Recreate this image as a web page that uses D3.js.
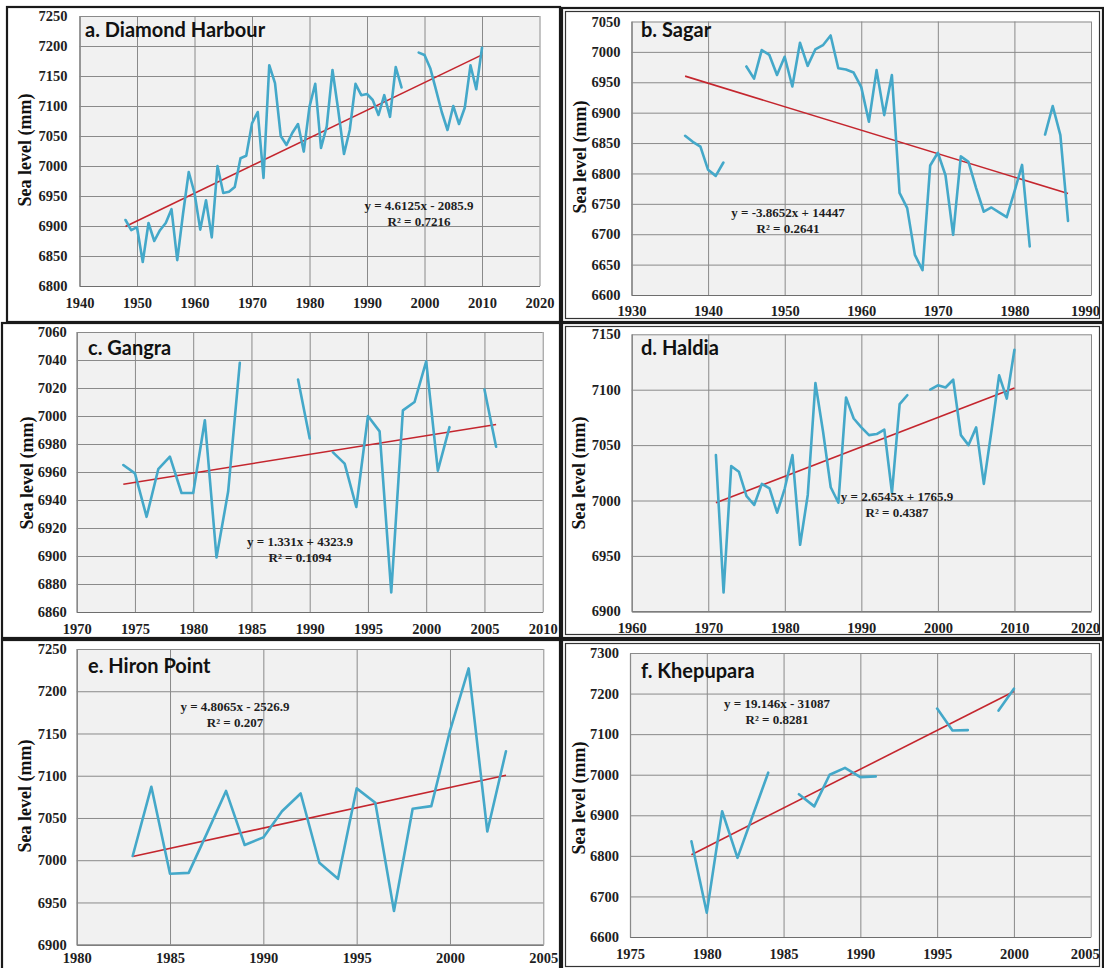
<!DOCTYPE html>
<html>
<head>
<meta charset="utf-8">
<script src="https://cdn.jsdelivr.net/npm/d3@7"></script>
<style>
  html, body { margin: 0; padding: 0; background: #fff; }
  svg { display: block; }
</style>
</head>
<body>
<svg id="chart" width="1104" height="968"></svg>
<script>
// ---- Annual mean sea level (mm) by station; null marks a missing year ----
const dhYears = [1948,1949,1950,1951,1952,1953,1954,1955,1956,1957,1958,1959,1960,1961,1962,1963,1964,1965,1966,1967,1968,1969,1970,1971,1972,1973,1974,1975,1976,1977,1978,1979,1980,1981,1982,1983,1984,1985,1986,1987,1988,1989,1990,1991,1992,1993,1994,1995,1996,1997,1998,1999,2000,2001,2002,2003,2004,2005,2006,2007,2008,2009,2010];
const dhLevels = [6910,6893,6898,6840,6905,6875,6893,6905,6928,6843,6920,6990,6955,6894,6943,6881,7000,6955,6957,6965,7013,7017,7071,7090,6980,7168,7138,7050,7035,7055,7070,7024,7099,7137,7030,7066,7160,7093,7020,7060,7137,7118,7120,7110,7085,7118,7082,7165,7131,null,null,7189,7185,7163,7127,7090,7060,7100,7070,7097,7168,7128,7197];

const sgYears = [1937,1938,1939,1940,1941,1942,1943,1944,1945,1946,1947,1948,1949,1950,1951,1952,1953,1954,1955,1956,1957,1958,1959,1960,1961,1962,1963,1964,1965,1966,1967,1968,1969,1970,1971,1972,1973,1974,1975,1976,1977,1978,1979,1980,1981,1982,1983,1984,1985,1986,1987];
const sgLevels = [6862,6852,6844,6806,6796,6818,null,null,6976,6956,7003,6995,6962,6992,6943,7015,6977,7004,7011,7027,6973,6971,6966,6942,6885,6970,6896,6962,6768,6743,6666,6641,6813,6834,6797,6699,6828,6819,6776,6737,6744,6736,6728,6770,6814,6680,null,6864,6911,6863,6722];

const gnYears = [1974,1975,1976,1977,1978,1979,1980,1981,1982,1983,1984,1985,1986,1987,1988,1989,1990,1991,1992,1993,1994,1995,1996,1997,1998,1999,2000,2001,2002,2003,2004,2005,2006];
const gnLevels = [6965,6959,6928,6962,6971,6945,6945,6997,6899,6946,7038,null,null,null,null,7026,6984,null,6974,6966,6935,7000,6989,6874,7004,7010,7039,6961,6992,null,null,7019,6978];

const hdYears = [1971,1972,1973,1974,1975,1976,1977,1978,1979,1980,1981,1982,1983,1984,1985,1986,1987,1988,1989,1990,1991,1992,1993,1994,1995,1996,1997,1998,1999,2000,2001,2002,2003,2004,2005,2006,2007,2008,2009,2010];
const hdLevels = [7041,6917,7031,7026,7004,6996,7015,7011,6989,7011,7041,6960,7005,7106,7062,7012,6998,7093,7074,7066,7059,7060,7064,7007,7087,7095,null,null,7100,7104,7102,7109,7059,7050,7066,7015,7063,7113,7092,7136];

const hpYears = [1983,1984,1985,1986,1987,1988,1989,1990,1991,1992,1993,1994,1995,1996,1997,1998,1999,2000,2001,2002,2003];
const hpLevels = [7005,7087,6984,6985,7033,7082,7018,7027,7058,7079,6997,6978,7085,7068,6940,7061,7064,7153,7227,7034,7129];

const kpYears = [1979,1980,1981,1982,1983,1984,1985,1986,1987,1988,1989,1990,1991,1992,1993,1994,1995,1996,1997,1998,1999,2000];
const kpLevels = [6836,6660,6910,6795,6900,7005,null,6952,6922,7000,7017,6994,6996,null,null,null,7163,7109,7110,null,7158,7212];

// ---- Linear trend fits: [slope, intercept] ----
const dhTrend = [4.6125, -2085.9];
const sgTrend = [-3.8652, 14447];
const gnTrend = [1.331, 4323.9];
const hdTrend = [2.6545, 1765.9];
const hpTrend = [4.8065, -2526.9];
const kpTrend = [19.146, -31087];

// ---- Axis tick values ----
const dhXTicks = [1940,1950,1960,1970,1980,1990,2000,2010,2020];
const dhYTicks = [6800,6850,6900,6950,7000,7050,7100,7150,7200,7250];
const sgXTicks = [1930,1940,1950,1960,1970,1980,1990];
const sgYTicks = [6600,6650,6700,6750,6800,6850,6900,6950,7000,7050];
const gnXTicks = [1970,1975,1980,1985,1990,1995,2000,2005,2010];
const gnYTicks = [6860,6880,6900,6920,6940,6960,6980,7000,7020,7040,7060];
const hdXTicks = [1960,1970,1980,1990,2000,2010,2020];
const hdYTicks = [6900,6950,7000,7050,7100,7150];
const hpXTicks = [1980,1985,1990,1995,2000,2005];
const hpYTicks = [6900,6950,7000,7050,7100,7150,7200,7250];
const kpXTicks = [1975,1980,1985,1990,1995,2000,2005];
const kpYTicks = [6600,6700,6800,6900,7000,7100,7200,7300];

// ---- Panel titles and fit labels ----
const titles = ["a. Diamond Harbour", "b. Sagar", "c. Gangra", "d. Haldia", "e. Hiron Point", "f. Khepupara"];
const eqLabels = ["y = 4.6125x - 2085.9", "y = -3.8652x + 14447", "y = 1.331x + 4323.9", "y = 2.6545x + 1765.9", "y = 4.8065x - 2526.9", "y = 19.146x - 31087"];
const r2Labels = ["R² = 0.7216", "R² = 0.2641", "R² = 0.1094", "R² = 0.4387", "R² = 0.207", "R² = 0.8281"];

// ---- Layout of the six panels ----
const panels = [
  { years: dhYears, levels: dhLevels, trend: dhTrend, xTicks: dhXTicks, yTicks: dhYTicks,
    plot: [79.5, 539.5, 16, 286], frame: [7, 7, 553, 315], dbl: false,
    titlePos: [85, 37], yTitlePos: [25, 150], eqPos: [419, 210], labelGap: 12, xLabelPad: 12 },
  { years: sgYears, levels: sgLevels, trend: sgTrend, xTicks: sgXTicks, yTicks: sgYTicks,
    plot: [631.5, 1091, 21.5, 295], frame: [562, 8, 541, 314], dbl: true,
    titlePos: [641, 37], yTitlePos: [580, 157], eqPos: [788, 217], labelGap: 11, xLabelPad: 11 },
  { years: gnYears, levels: gnLevels, trend: gnTrend, xTicks: gnXTicks, yTicks: gnYTicks,
    plot: [76.7, 542.7, 332, 612], frame: [2, 323, 558, 315], dbl: false,
    titlePos: [88, 355], yTitlePos: [27, 473], eqPos: [300, 546], labelGap: 10, xLabelPad: 12 },
  { years: hdYears, levels: hdLevels, trend: hdTrend, xTicks: hdXTicks, yTicks: hdYTicks,
    plot: [631.7, 1091, 334.3, 611.3], frame: [562, 323, 541, 315], dbl: true,
    titlePos: [641, 355], yTitlePos: [579, 473], eqPos: [897, 501], labelGap: 11, xLabelPad: 11 },
  { years: hpYears, levels: hpLevels, trend: hpTrend, xTicks: hpXTicks, yTicks: hpYTicks,
    plot: [76.7, 543.3, 649, 944.7], frame: [2, 640, 558, 330], dbl: false,
    titlePos: [88, 673], yTitlePos: [25, 796], eqPos: [235, 711], labelGap: 10, xLabelPad: 8 },
  { years: kpYears, levels: kpLevels, trend: kpTrend, xTicks: kpXTicks, yTicks: kpYTicks,
    plot: [630, 1090.7, 653, 937], frame: [562, 640, 541, 330], dbl: true,
    titlePos: [641, 678], yTitlePos: [579, 798], eqPos: [777, 708], labelGap: 11, xLabelPad: 12 }
];

const svg = d3.select("#chart");
const serif = "'Liberation Serif', 'Times New Roman', serif";

panels.forEach((p, i) => {
  const [left, right, top, bottom] = p.plot;
  const xDom = d3.extent(p.xTicks), yDom = d3.extent(p.yTicks);
  const x = d3.scaleLinear().domain(xDom).range([left, right]);
  const y = d3.scaleLinear().domain(yDom).range([bottom, top]);
  const g = svg.append("g");

  // panel frame
  const [fx, fy, fw, fh] = p.frame;
  g.append("rect").attr("x", fx).attr("y", fy).attr("width", fw).attr("height", fh)
    .attr("fill", "#fff").attr("stroke", "#1a1a1a").attr("stroke-width", 2.2);
  if (p.dbl) {
    g.append("rect").attr("x", fx + 3.5).attr("y", fy + 3.5).attr("width", fw - 7).attr("height", fh - 7)
      .attr("fill", "none").attr("stroke", "#333").attr("stroke-width", 1.2);
  }

  // plot area background
  g.append("rect").attr("x", left).attr("y", top).attr("width", right - left).attr("height", bottom - top)
    .attr("fill", "#f1f1f1");

  // horizontal gridlines + y tick labels
  const yAxis = g.append("g").attr("transform", `translate(${left},0)`)
    .call(d3.axisLeft(y).tickValues(p.yTicks).tickFormat(d3.format("d"))
      .tickSize(-(right - left)).tickSizeOuter(0).tickPadding(p.labelGap));
  // vertical gridlines + x tick labels
  const xAxis = g.append("g").attr("transform", `translate(0,${bottom})`)
    .call(d3.axisBottom(x).tickValues(p.xTicks).tickFormat(d3.format("d"))
      .tickSize(-(bottom - top)).tickSizeOuter(0).tickPadding(p.xLabelPad));

  [yAxis, xAxis].forEach(ax => {
    ax.select(".domain").attr("stroke", "#6e6e6e").attr("stroke-width", 1.2);
    ax.selectAll(".tick line").attr("stroke", "#8a8a8a").attr("stroke-width", 1);
    ax.selectAll(".tick text").attr("fill", "#1e1e1e")
      .style("font-family", serif).style("font-weight", "bold").style("font-size", "14.5px");
  });
  // keep the last year label inside the page on the right-hand panels
  if (p.dbl) {
    xAxis.selectAll(".tick text").filter(d => d === xDom[1]).attr("dx", -6);
  }

  // trend line from the fitted coefficients
  const fitYears = d3.extent(p.years);
  const trendLine = d3.line().x(d => x(d)).y(d => y(p.trend[0] * d + p.trend[1]));
  g.append("path").datum(fitYears).attr("d", trendLine)
    .attr("fill", "none").attr("stroke", "#c4262e").attr("stroke-width", 1.6);

  // observed annual series
  const pts = p.years.map((yr, k) => ({ yr, v: p.levels[k] }));
  const seaLine = d3.line().defined(d => d.v !== null).x(d => x(d.yr)).y(d => y(d.v));
  g.append("path").datum(pts).attr("d", seaLine)
    .attr("fill", "none").attr("stroke", "#44a8c9").attr("stroke-width", 2.6)
    .attr("stroke-linejoin", "round").attr("stroke-linecap", "round");

  // fit labels
  g.append("text").attr("x", p.eqPos[0]).attr("y", p.eqPos[1]).attr("text-anchor", "middle")
    .style("font-family", serif).style("font-weight", "bold").style("font-size", "13px")
    .attr("fill", "#1e1e1e").text(eqLabels[i]);
  g.append("text").attr("x", p.eqPos[0]).attr("y", p.eqPos[1] + 16).attr("text-anchor", "middle")
    .style("font-family", serif).style("font-weight", "bold").style("font-size", "13px")
    .attr("fill", "#1e1e1e").text(r2Labels[i]);

  // panel title
  g.append("text").attr("x", p.titlePos[0]).attr("y", p.titlePos[1])
    .style("font-family", "Lato, 'Open Sans', sans-serif").style("font-weight", "bold").style("font-size", "20px")
    .attr("fill", "#111").text(titles[i]);

  // y-axis title
  g.append("text")
    .attr("transform", `translate(${p.yTitlePos[0]},${p.yTitlePos[1]}) rotate(-90)`)
    .attr("text-anchor", "middle").attr("dy", "0.35em")
    .style("font-family", serif).style("font-weight", "bold").style("font-size", "18px")
    .attr("fill", "#111").text("Sea level (mm)");
});
</script>
</body>
</html>
